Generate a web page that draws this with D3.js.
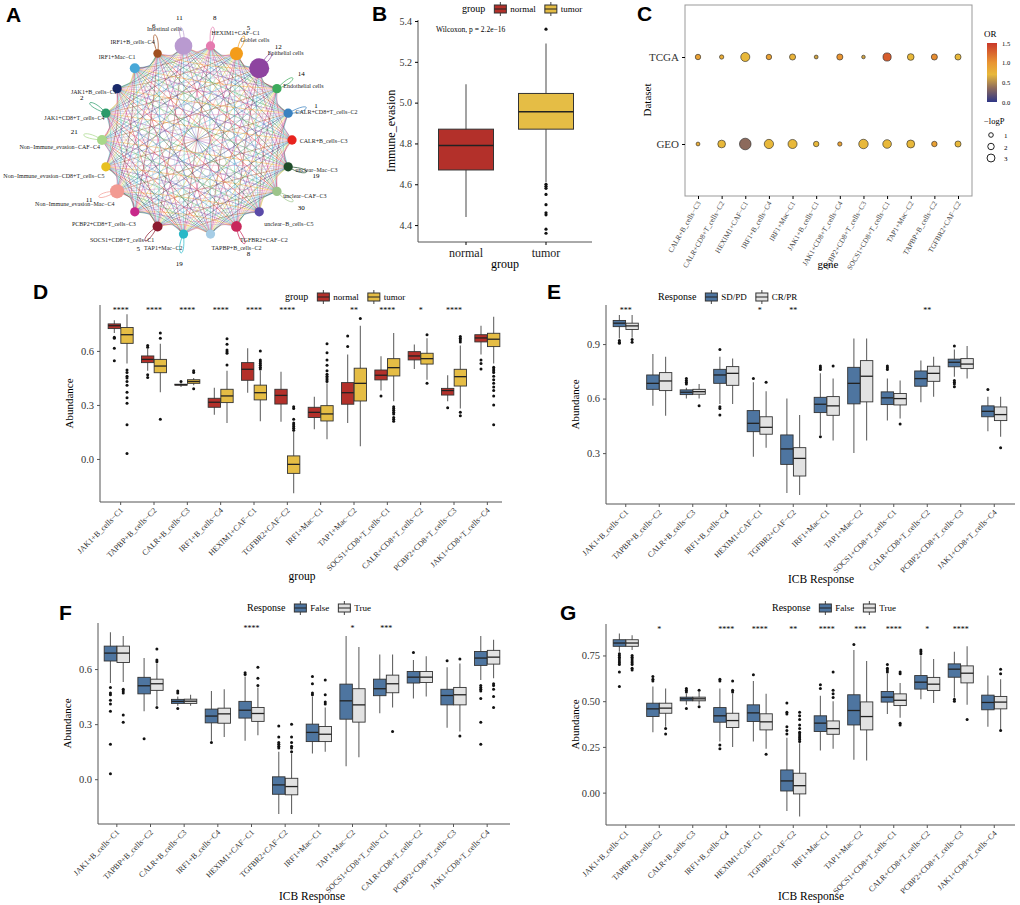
<!DOCTYPE html>
<html><head><meta charset="utf-8">
<script src="https://cdn.jsdelivr.net/npm/d3@7"></script>
<style>body{margin:0;background:#fff}svg{display:block}text{font-family:'Liberation Serif','DejaVu Serif',serif}text.lt{font-family:'Liberation Sans',Arial,sans-serif;font-weight:bold}</style>
</head><body><div id="chart"></div>
<script>
// ---------- data ----------
const netNodes = ["Intestinal cells","HEXIM1+CAF−C1","Goblet cells","Epithelial cells","Endothelial cells","CALR+CD8+T_cells−C2","CALR+B_cells−C3","unclear−Mac−C3","unclear−CAF−C3","unclear−B_cells−C5","TGFBR2+CAF−C2","TAPBP+B_cells−C2","TAP1+Mac−C2","SOCS1+CD8+T_cells−C1","PCBP2+CD8+T_cells−C3","Non−Immune_evasion−Mac−C4","Non−Immune_evasion−CD8+T_cells−C5","Non−Immune_evasion−CAF−C4","JAK1+CD8+T_cells−C4","JAK1+B_cells−C1","IRF1+Mac−C1","IRF1+B_cells−C4"];
const netColors = ["#b99ad0","#e57bb0","#f39c1a","#8e44a0","#3daa5c","#3a82c0","#e8231e","#1f4d2a","#9cc48a","#5a4aa8","#c8285a","#a6cde6","#2ab8c8","#8c1a30","#c8288a","#f29a92","#e8c020","#a8d88a","#2a9a6a","#1a2a6a","#48a8d8","#a05020"];
const netSize = [110,30,60,140,30,30,30,30,30,30,40,30,30,35,30,70,30,35,30,30,35,25];
const netSelf = [11,8,5,12,14,1,null,19,30,null,8,null,19,5,null,11,null,21,2,null,null,6];

const bGroups = ["normal","tumor"];
const bStats = [[4.44,4.67,4.79,4.87,5.09],[4.61,4.87,4.955,5.045,5.29]];
const bOut = [[],[5.36,4.60,4.59,4.58,4.55,4.50,4.46,4.45,4.38,4.36]];

const cGenes = ["CALR+B_cells−C3","CALR+CD8+T_cells−C2","HEXIM1+CAF−C1","IRF1+B_cells−C4","IRF1+Mac−C1","JAK1+B_cells−C1","JAK1+CD8+T_cells−C4","PCBP2+CD8+T_cells−C3","SOCS1+CD8+T_cells−C1","TAP1+Mac−C2","TAPBP+B_cells−C2","TGFBR2+CAF−C2"];
const cDatasets = ["TCGA","GEO"];
const cTcgaOR = [0.9,0.8,0.7,0.9,0.75,0.6,1.0,0.6,1.3,0.7,1.05,0.7];
const cTcgaLogP = [0.8,0.5,2.2,0.8,1.0,0.4,1.0,0.35,1.8,1.2,1.0,1.0];
const cGeoOR = [0.8,0.7,0.35,0.7,0.7,0.7,0.9,0.7,0.7,0.7,0.9,0.7];
const cGeoLogP = [0.4,1.6,3.6,2.3,2.2,0.8,0.5,2.4,2.0,1.7,0.8,1.0];

const cellTypes = ["JAK1+B_cells−C1","TAPBP+B_cells−C2","CALR+B_cells−C3","IRF1+B_cells−C4","HEXIM1+CAF−C1","TGFBR2+CAF−C2","IRF1+Mac−C1","TAP1+Mac−C2","SOCS1+CD8+T_cells−C1","CALR+CD8+T_cells−C2","PCBP2+CD8+T_cells−C3","JAK1+CD8+T_cells−C4"];

// [lower whisker, q1, median, q3, upper whisker]
const dNormal = [[0.70,0.724,0.74,0.75,0.77],[0.49,0.535,0.553,0.572,0.61],[0.40,0.41,0.412,0.415,0.42],[0.245,0.287,0.315,0.337,0.396],[0.368,0.437,0.498,0.535,0.615],[0.207,0.305,0.353,0.387,0.485],[0.165,0.23,0.259,0.287,0.346],[0.20,0.304,0.368,0.424,0.58],[0.38,0.439,0.465,0.494,0.57],[0.50,0.55,0.572,0.596,0.635],[0.32,0.355,0.38,0.392,0.465],[0.58,0.65,0.672,0.69,0.74]];
const dNormalOut = [[0.676,0.67,0.615,0.546],[0.63,0.62,0.467,0.453],[0.43],[],[],[],[],[0.624,0.683],[0.35],[],[0.285],[0.55,0.53,0.50]];
const dTumor = [[0.53,0.642,0.69,0.73,0.804],[0.37,0.479,0.516,0.553,0.64],[0.41,0.42,0.43,0.44,0.45],[0.20,0.313,0.35,0.387,0.49],[0.21,0.328,0.368,0.41,0.49],[-0.19,-0.08,-0.03,0.017,0.152],[0.11,0.211,0.25,0.296,0.42],[0.07,0.322,0.42,0.504,0.74],[0.32,0.461,0.507,0.557,0.70],[0.44,0.527,0.557,0.587,0.67],[0.28,0.405,0.457,0.498,0.63],[0.53,0.624,0.665,0.698,0.79]];
const dTumorOut = [[0.494,0.48,0.46,0.45,0.43,0.41,0.37,0.34,0.31,0.19,0.03],[0.70,0.67,0.22],[0.49,0.48,0.39],[0.522,0.605,0.596,0.587,0.637,0.667],[0.50,0.51,0.52,0.53,0.54,0.55,0.60],[0.16,0.17,0.18,0.19,0.20,0.22,0.28,0.29],[0.43,0.44,0.45,0.46,0.47,0.49,0.52,0.55,0.59,0.64],[0.78],[0.21,0.22,0.23,0.25,0.26,0.27,0.28,0.29],[0.69,0.42],[0.65,0.66,0.67,0.68,0.26,0.24],[0.51,0.50,0.49,0.48,0.46,0.44,0.42,0.40,0.38,0.35,0.30,0.19]];
const dStars = ["****","****","****","****","****","****","","**","****","*","****",""];

const eSD = [[0.93,0.996,1.015,1.03,1.06],[0.56,0.651,0.684,0.73,0.846],[0.60,0.622,0.635,0.648,0.66],[0.57,0.684,0.73,0.761,0.83],[0.28,0.418,0.464,0.534,0.69],[0.08,0.238,0.323,0.40,0.60],[0.40,0.523,0.569,0.607,0.74],[0.30,0.571,0.684,0.772,0.93],[0.48,0.567,0.604,0.637,0.71],[0.58,0.668,0.71,0.752,0.81],[0.72,0.775,0.80,0.817,0.87],[0.42,0.50,0.53,0.56,0.61]];
const eSDOut = [[0.92,0.91,0.905],[],[0.71,0.70,0.69,0.68],[0.87,0.555,0.545,0.51],[0.71],[],[0.78,0.77,0.76,0.39],[],[0.78,0.77,0.76],[],[0.89,0.70,0.69,0.68,0.665],[0.65]];
const eCR = [[0.935,0.98,1.0,1.015,1.06],[0.505,0.644,0.697,0.743,0.83],[0.60,0.624,0.638,0.651,0.68],[0.57,0.673,0.739,0.776,0.82],[0.33,0.404,0.442,0.50,0.64],[0.07,0.174,0.271,0.33,0.51],[0.37,0.508,0.56,0.611,0.71],[0.37,0.582,0.723,0.809,0.93],[0.49,0.565,0.60,0.628,0.70],[0.61,0.695,0.739,0.778,0.83],[0.71,0.765,0.79,0.82,0.89],[0.39,0.479,0.512,0.554,0.61]];
const eCROut = [[0.925,0.91],[],[0.56],[],[0.69],[],[0.78],[],[0.46],[],[],[0.33]];
const eStars = ["***","","","","*","**","","","","**","",""];

const fFalse = [[0.524,0.644,0.687,0.725,0.80],[0.37,0.465,0.509,0.555,0.66],[0.40,0.413,0.424,0.435,0.45],[0.21,0.307,0.344,0.382,0.48],[0.21,0.333,0.376,0.424,0.56],[-0.19,-0.082,-0.031,0.013,0.15],[0.14,0.205,0.255,0.30,0.45],[0.07,0.327,0.427,0.518,0.78],[0.36,0.455,0.493,0.545,0.68],[0.44,0.524,0.556,0.587,0.65],[0.28,0.405,0.456,0.49,0.61],[0.54,0.62,0.66,0.696,0.78]];
const fFalseOut = [[0.50,0.47,0.46,0.43,0.41,0.37,0.19,0.03],[0.22],[0.48,0.47,0.385],[0.20],[0.57,0.58],[0.17,0.18,0.19,0.20,0.23,0.29],[0.46,0.47,0.52,0.56],[],[],[0.69],[0.645],[0.51,0.50,0.49,0.48,0.44,0.31,0.19]];
const fTrue = [[0.53,0.636,0.687,0.725,0.78],[0.40,0.484,0.52,0.545,0.63],[0.40,0.413,0.425,0.436,0.46],[0.23,0.305,0.356,0.387,0.49],[0.24,0.315,0.358,0.391,0.50],[-0.19,-0.085,-0.04,0.005,0.14],[0.15,0.205,0.245,0.287,0.39],[0.12,0.311,0.405,0.493,0.72],[0.39,0.471,0.52,0.567,0.68],[0.45,0.527,0.556,0.587,0.67],[0.26,0.405,0.46,0.50,0.63],[0.55,0.627,0.665,0.702,0.76]];
const fTrueOut = [[0.49,0.48,0.47,0.35,0.31],[0.71,0.65,0.64,0.39],[],[],[0.51,0.55,0.61],[0.15,0.17,0.18,0.20,0.23,0.30],[0.41,0.42,0.46,0.54],[],[0.26],[],[0.655,0.235],[0.52,0.51,0.49,0.45,0.39]];
const fStars = ["","","","","****","","","*","***","","",""];

const gFalse = [[0.77,0.80,0.818,0.836,0.87],[0.33,0.416,0.458,0.489,0.58],[0.48,0.502,0.513,0.522,0.54],[0.28,0.385,0.42,0.465,0.57],[0.28,0.389,0.436,0.48,0.61],[-0.10,0.009,0.064,0.124,0.30],[0.23,0.334,0.38,0.42,0.53],[0.18,0.37,0.449,0.535,0.78],[0.43,0.495,0.522,0.553,0.65],[0.51,0.566,0.604,0.64,0.75],[0.52,0.631,0.675,0.704,0.77],[0.36,0.453,0.493,0.533,0.64]];
const gFalseOut = [[0.76,0.75,0.74,0.73,0.72,0.71,0.70,0.66,0.58],[0.61,0.62,0.635],[0.57,0.56,0.55,0.46],[0.61,0.62,0.26,0.24],[0.645],[0.32,0.34,0.36,0.43,0.44,0.49],[0.57,0.59],[0.81],[0.66,0.67,0.68,0.70],[0.76,0.77,0.78],[0.50,0.51],[]];
const gTrue = [[0.78,0.80,0.818,0.836,0.86],[0.36,0.434,0.462,0.489,0.57],[0.48,0.502,0.513,0.522,0.55],[0.25,0.356,0.394,0.434,0.54],[0.24,0.343,0.387,0.431,0.54],[-0.13,-0.007,0.038,0.106,0.27],[0.24,0.319,0.35,0.392,0.50],[0.175,0.343,0.416,0.496,0.72],[0.41,0.476,0.505,0.54,0.60],[0.49,0.558,0.593,0.63,0.73],[0.48,0.60,0.653,0.693,0.80],[0.34,0.458,0.495,0.526,0.62]];
const gTrueOut = [[0.75,0.74,0.73,0.72,0.71,0.70,0.68,0.67],[0.35,0.32],[0.56,0.47],[0.55,0.56,0.61],[0.21],[0.28,0.29,0.30,0.31,0.32,0.33,0.35,0.37,0.40,0.42,0.44],[0.52,0.54,0.56,0.66],[],[0.65,0.66,0.38,0.37],[],[0.40],[0.65,0.675,0.34]];
const gStars = ["","*","","****","****","**","****","***","****","*","****",""];

// ---------- drawing ----------
const svg = d3.select("#chart").append("svg").attr("width",1020).attr("height",905);
svg.append("rect").attr("width",1020).attr("height",905).attr("fill","#fff");

const letter = (t,x,y) => svg.append("text").attr("class","lt").attr("x",x).attr("y",y).text(t).style("font-size","21px");
letter("A",6,22); letter("B",372,21); letter("C",637,21);
letter("D",33,299); letter("E",547,299); letter("F",59,620); letter("G",560,620);

// ---- A: network ----
(function(){
  const cx = 197, cy = 140, R = 95;
  const step = 2*Math.PI/netNodes.length;
  const a0 = -Math.PI/2 - step/2;
  const pos = netNodes.map((_,i) => {
    const a = a0 + i*step;
    return {a, x: cx + R*Math.cos(a), y: cy + R*Math.sin(a)};
  });
  const rScale = d3.scaleSqrt().domain([0,140]).range([0,10]);
  const g = svg.append("g");
  for (let i=0;i<pos.length;i++) for (let j=i+1;j<pos.length;j++){
    const p=pos[i], q=pos[j];
    const mx=(p.x+q.x)/2, my=(p.y+q.y)/2;
    const bend = 0.12;
    const c1x = mx + (cx-mx)*bend, c1y = my + (cy-my)*bend;
    g.append("path").attr("d",`M${p.x},${p.y}Q${c1x},${c1y} ${q.x},${q.y}`)
      .attr("fill","none").attr("stroke",netColors[(i+j)%netColors.length]).attr("stroke-width",0.7).attr("opacity",0.6);
  }
  // loops
  pos.forEach((p,i) => {
    if (netSelf[i]==null) return;
    const la = Math.cos(p.a) < -0.3 ? p.a + 0.3 : p.a;
    const L = 22, w = 7;
    const tx = p.x + L*Math.cos(la), ty = p.y + L*Math.sin(la);
    const nx = -Math.sin(la)*w, ny = Math.cos(la)*w;
    g.append("path").attr("d",`M${p.x},${p.y}C${tx+nx},${ty+ny} ${tx-nx+ (tx-p.x)*0.3},${ty-ny+(ty-p.y)*0.3} ${p.x},${p.y}`)
      .attr("fill","none").attr("stroke",netColors[i]).attr("stroke-width",0.9).attr("opacity",0.8);
    g.append("text").attr("x",p.x+(L+7)*Math.cos(la)).attr("y",p.y+(L+7)*Math.sin(la)+3)
      .attr("text-anchor","middle").style("font-size","7px").text(netSelf[i]);
  });
  pos.forEach((p,i) => {
    g.append("circle").attr("cx",p.x).attr("cy",p.y).attr("r",rScale(netSize[i])).attr("fill",netColors[i]);
    const c = Math.cos(p.a), s = Math.sin(p.a);
    const anchor = c>0.1 ? "start" : c<-0.1 ? "end" : "middle";
    const d = rScale(netSize[i])+3;
    const left = c < -0.3 && Math.abs(s) < 0.8;
    g.append("text").attr("x",p.x + c*d + (left ? 6 : 0)).attr("y",p.y + s*d + (s<-0.6? -3 : s>0.6 ? 8 : left ? 9 : 3))
      .attr("text-anchor",anchor).style("font-size","6px").attr("fill","#222").text(netNodes[i]);
  });
})();

// ---- generic box helper ----
function drawBoxes(g, x, y, stats, outs, off, bw, fill){
  stats.forEach((s,i) => {
    const cxp = x(x.domain()[i]) + x.bandwidth()/2 + off;
    g.append("line").attr("x1",cxp).attr("x2",cxp).attr("y1",y(s[0])).attr("y2",y(s[4])).attr("stroke","#666").attr("stroke-width",1.1);
    g.append("rect").attr("x",cxp-bw/2).attr("width",bw).attr("y",y(s[3])).attr("height",y(s[1])-y(s[3]))
      .attr("fill",fill).attr("stroke","#333").attr("stroke-width",0.9);
    g.append("line").attr("x1",cxp-bw/2).attr("x2",cxp+bw/2).attr("y1",y(s[2])).attr("y2",y(s[2])).attr("stroke","#222").attr("stroke-width",1.3);
    (outs[i]||[]).forEach(v => g.append("circle").attr("cx",cxp).attr("cy",y(v)).attr("r",1.5).attr("fill","#111"));
  });
}

function legend(x0, y0, title, labels, fills){
  const g = svg.append("g").attr("transform",`translate(${x0},${y0})`).style("font-size","9px");
  const tt = g.append("text").attr("x",0).attr("y",3).text(title).style("font-size","10px");
  let cx = tt.node().getComputedTextLength() + 9;
  labels.forEach((l,k) => {
    g.append("line").attr("x1",cx+6).attr("x2",cx+6).attr("y1",-7).attr("y2",7).attr("stroke","#444");
    g.append("rect").attr("x",cx).attr("y",-4).attr("width",12).attr("height",8).attr("fill",fills[k]).attr("stroke","#333");
    g.append("line").attr("x1",cx).attr("x2",cx+12).attr("y1",0).attr("y2",0).attr("stroke","#222");
    const t = g.append("text").attr("x",cx+16).attr("y",3).text(l);
    cx += 16 + t.node().getComputedTextLength() + 9;
  });
}

function boxPanel(o){
  const g = svg.append("g");
  const x = d3.scaleBand().domain(cellTypes).range([o.bx0,o.bx1]);
  const y = d3.scaleLinear().domain(o.dom).range([o.y1,o.y0]);
  const bw = x.bandwidth()*0.37, off = x.bandwidth()*0.19;
  g.append("g").attr("transform",`translate(${o.x0},0)`)
    .call(d3.axisLeft(y).tickValues(o.ticks).tickFormat(d3.format(o.fmt)).tickSize(3))
    .call(a => a.select(".domain").attr("stroke","#555").attr("d",`M0,${o.y0}V${o.y1}`))
    .call(a => a.selectAll("text").style("font-size","10.5px").attr("fill","#333"))
    .call(a => a.selectAll(".tick line").attr("stroke","#555"));
  g.append("g").attr("transform",`translate(0,${o.y1})`)
    .call(d3.axisBottom(x).tickSize(3).tickFormat(""))
    .call(a => a.select(".domain").attr("stroke","#555").attr("d",`M${o.x0},0H${o.x1}`))
    .call(a => a.selectAll(".tick line").attr("stroke","#555"));
  cellTypes.forEach(c => {
    const tx = x(c)+x.bandwidth()/2;
    g.append("text").attr("transform",`translate(${tx+3},${o.y1+9}) rotate(-45)`).attr("text-anchor","end")
      .style("font-size","8px").attr("fill","#333").text(c);
  });
  drawBoxes(g,x,y,o.s1,o.o1,-off,bw,o.c1);
  drawBoxes(g,x,y,o.s2,o.o2,off,bw,o.c2);
  o.stars.forEach((s,i) => g.append("text").attr("x",x(cellTypes[i])+x.bandwidth()/2).attr("y",o.y0+8)
    .attr("text-anchor","middle").style("font-size","8px").text(s));
  g.append("text").attr("transform",`translate(${o.x0-27},${(o.y0+o.y1)/2}) rotate(-90)`).attr("text-anchor","middle")
    .style("font-size","11px").text("Abundance");
  g.append("text").attr("x",o.tx).attr("y",o.ty).attr("text-anchor","middle").style("font-size","11.5px").text(o.xTitle);
}

const RED="#b3302a", YEL="#e5bd45", BLUE="#4e75a0", GREY="#e2e2e2";
boxPanel({x0:100,x1:502,bx0:104,bx1:504,y0:305,y1:502,dom:[-0.239,0.855],ticks:[0,0.3,0.6],fmt:".1f",
  s1:dNormal,o1:dNormalOut,s2:dTumor,o2:dTumorOut,c1:RED,c2:YEL,stars:dStars,xTitle:"group",tx:302,ty:580});
legend(285,297,"group",["normal","tumor"],[RED,YEL]);
boxPanel({x0:606,x1:1015,bx0:609,bx1:1011,y0:305,y1:504,dom:[0.02,1.115],ticks:[0.3,0.6,0.9],fmt:".1f",
  s1:eSD,o1:eSDOut,s2:eCR,o2:eCROut,c1:BLUE,c2:GREY,stars:eStars,xTitle:"ICB Response",tx:821,ty:583});
legend(658,297,"Response",["SD/PD","CR/PR"],[BLUE,GREY]);
boxPanel({x0:98,x1:510,bx0:100,bx1:504,y0:623,y1:824,dom:[-0.244,0.851],ticks:[0,0.3,0.6],fmt:".1f",
  s1:fFalse,o1:fFalseOut,s2:fTrue,o2:fTrueOut,c1:BLUE,c2:GREY,stars:fStars,xTitle:"ICB Response",tx:312,ty:900});
legend(247,608,"Response",["False","True"],[BLUE,GREY]);
boxPanel({x0:606,x1:1015,bx0:609,bx1:1011,y0:624,y1:825,dom:[-0.177,0.922],ticks:[0,0.25,0.5,0.75],fmt:".2f",
  s1:gFalse,o1:gFalseOut,s2:gTrue,o2:gTrueOut,c1:BLUE,c2:GREY,stars:gStars,xTitle:"ICB Response",tx:811,ty:900});
legend(772,608,"Response",["False","True"],[BLUE,GREY]);

// ---- B ----
(function(){
  const g = svg.append("g");
  const x = d3.scaleBand().domain(bGroups).range([426,586]);
  const y = d3.scaleLinear().domain([4.317,5.405]).range([242,20]);
  g.append("g").attr("transform","translate(418,0)")
    .call(d3.axisLeft(y).tickValues([4.4,4.6,4.8,5.0,5.2,5.4]).tickFormat(d3.format(".1f")).tickSize(3))
    .call(a => a.select(".domain").attr("stroke","#555").attr("d","M0,20V242"))
    .call(a => a.selectAll("text").style("font-size","10px").attr("fill","#333"));
  g.append("g").attr("transform","translate(0,242)")
    .call(d3.axisBottom(x).tickSize(3))
    .call(a => a.select(".domain").attr("stroke","#555").attr("d","M418,0H592"))
    .call(a => a.selectAll("text").style("font-size","12px").attr("fill","#222"));
  const bw = 55, fills=[RED,YEL];
  bStats.forEach((s,i) => {
    const c = x(bGroups[i])+x.bandwidth()/2;
    g.append("line").attr("x1",c).attr("x2",c).attr("y1",y(s[0])).attr("y2",y(s[4])).attr("stroke","#666").attr("stroke-width",1.2);
    g.append("rect").attr("x",c-bw/2).attr("width",bw).attr("y",y(s[3])).attr("height",y(s[1])-y(s[3])).attr("fill",fills[i]).attr("stroke","#333");
    g.append("line").attr("x1",c-bw/2).attr("x2",c+bw/2).attr("y1",y(s[2])).attr("y2",y(s[2])).attr("stroke","#222").attr("stroke-width",1.4);
    bOut[i].forEach(v => g.append("circle").attr("cx",c).attr("cy",y(v)).attr("r",1.6).attr("fill","#111"));
  });
  g.append("text").attr("x",436).attr("y",32).style("font-size","7.5px").text("Wilcoxon, p = 2.2e−16");
  g.append("text").attr("transform","translate(395,131) rotate(-90)").attr("text-anchor","middle").style("font-size","12px").text("Immune_evasion");
  g.append("text").attr("x",505).attr("y",268).attr("text-anchor","middle").style("font-size","12px").text("group");
  legend(462,9,"group",["normal","tumor"],[RED,YEL]);
})();

// ---- C ----
(function(){
  const g = svg.append("g");
  const x = d3.scalePoint().domain(cGenes).range([698,958]);
  const y = d3.scalePoint().domain(cDatasets).range([57,144]);
  const col = d3.scaleLinear().domain([0,0.35,0.7,1.0,1.5]).range(["#2e3686","#8c6a5c","#e8b83a","#e99532","#c9382a"]);
  const r = d3.scaleSqrt().domain([0,3.6]).range([0,5.8]);
  g.append("rect").attr("x",685).attr("y",5).attr("width",287).attr("height",191).attr("fill","none").attr("stroke","#999");
  g.append("g").attr("transform","translate(685,0)").call(d3.axisLeft(y).tickSize(3))
    .call(a => a.select(".domain").remove())
    .call(a => a.selectAll("text").style("font-size","11px").attr("fill","#333"));
  g.append("g").attr("transform","translate(0,196)").call(d3.axisBottom(x).tickSize(3).tickFormat(""))
    .call(a => a.select(".domain").remove());
  cGenes.forEach(c => g.append("text").attr("transform",`translate(${x(c)+3},${203}) rotate(-60)`).attr("text-anchor","end")
    .style("font-size","7.3px").attr("fill","#444").text(c));
  const rows = [[cTcgaOR,cTcgaLogP,"TCGA"],[cGeoOR,cGeoLogP,"GEO"]];
  rows.forEach(([or,lp,ds]) => cGenes.forEach((c,i) => g.append("circle").attr("cx",x(c)).attr("cy",y(ds))
    .attr("r",r(lp[i])).attr("fill",col(or[i])).attr("stroke","#222").attr("stroke-width",0.6)));
  g.append("text").attr("transform","translate(651,100) rotate(-90)").attr("text-anchor","middle").style("font-size","11px").text("Dataset");
  g.append("text").attr("x",828).attr("y",268).attr("text-anchor","middle").style("font-size","11px").text("gene");
  // colour bar
  const grad = svg.append("defs").append("linearGradient").attr("id","orgrad").attr("x1",0).attr("x2",0).attr("y1",1).attr("y2",0);
  col.domain().forEach(v => grad.append("stop").attr("offset",v/1.5).attr("stop-color",col(v)));
  const cb = d3.scaleLinear().domain([0,1.5]).range([102,43]);
  g.append("text").attr("x",984).attr("y",37).style("font-size","9px").text("OR");
  g.append("rect").attr("x",987).attr("y",43).attr("width",10).attr("height",59).attr("fill","url(#orgrad)");
  g.append("g").attr("transform","translate(997,0)").call(d3.axisRight(cb).tickValues([0,0.5,1,1.5]).tickFormat(d3.format(".1f")).tickSize(2))
    .call(a => a.select(".domain").remove())
    .call(a => a.selectAll("text").style("font-size","6.5px"))
    .call(a => a.selectAll(".tick line").attr("stroke","#fff"));
  g.append("text").attr("x",984).attr("y",124).style("font-size","8.5px").text("−logP");
  [1,2,3].forEach((v,k) => {
    g.append("circle").attr("cx",991).attr("cy",135+k*11.5).attr("r",r(v)*0.75).attr("fill","none").attr("stroke","#222");
    g.append("text").attr("x",1004).attr("y",138+k*11.5).style("font-size","7px").text(v);
  });
})();
</script></body></html>
